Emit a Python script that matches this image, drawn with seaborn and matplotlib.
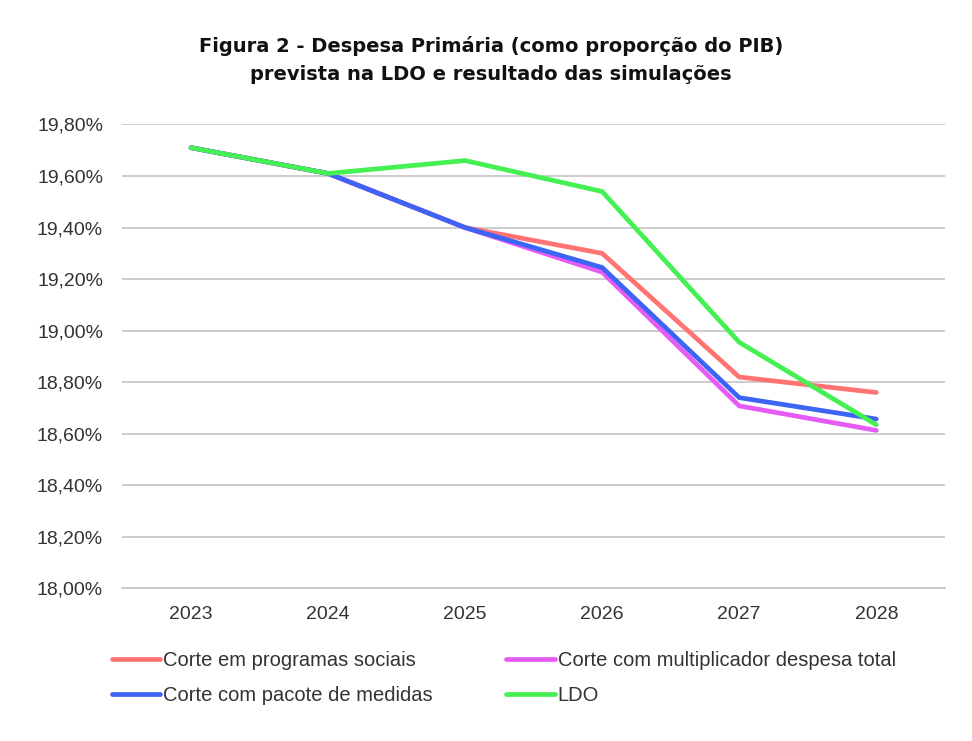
import pandas as pd
import seaborn as sns
import matplotlib.pyplot as plt
from matplotlib.ticker import FuncFormatter

# dados
anos = ["2023", "2024", "2025", "2026", "2027", "2028"]
corte_programas = [19.71, 19.61, 19.40, 19.30, 18.82, 18.76]
corte_multiplicador = [19.71, 19.61, 19.40, 19.227, 18.708, 18.613]
corte_pacote = [19.71, 19.61, 19.40, 19.245, 18.74, 18.657]
ldo = [19.71, 19.61, 19.66, 19.54, 18.955, 18.635]

series = {
    "Corte em programas sociais": corte_programas,
    "Corte com pacote de medidas": corte_pacote,
    "Corte com multiplicador despesa total": corte_multiplicador,
    "LDO": ldo,
}
cores = {
    "Corte em programas sociais": "#ff7373",
    "Corte com pacote de medidas": "#3c64f5",
    "Corte com multiplicador despesa total": "#e65af5",
    "LDO": "#44f052",
}

df = pd.concat(
    [pd.DataFrame({"ano": list(range(len(anos))), "valor": v, "serie": k}) for k, v in series.items()]
)

sns.set_style("white")
plt.rcParams["font.family"] = ["Liberation Sans", "DejaVu Sans"]

fig, ax = plt.subplots(figsize=(9.72, 7.41), dpi=100)
fig.subplots_adjust(left=0.126, right=0.972, top=0.832, bottom=0.206)

# ordem de desenho: magenta por baixo do azul
ordem_desenho = ["Corte em programas sociais", "Corte com multiplicador despesa total",
                 "Corte com pacote de medidas", "LDO"]
for nome in ordem_desenho:
    sub = df[df["serie"] == nome]
    sns.lineplot(data=sub, x="ano", y="valor", color=cores[nome], lw=3.4, ax=ax, label=nome)

ax.set_xlim(-0.5, len(anos) - 0.5)
ax.set_ylim(18.0, 19.8)
ax.set_xticks(range(len(anos)))
ax.set_xticklabels(anos)
ax.set_yticks([18.0 + 0.2 * i for i in range(10)])
ax.yaxis.set_major_formatter(FuncFormatter(lambda v, p: f"{v:.2f}%".replace(".", ",")))
ax.tick_params(axis="both", labelsize=14, colors="#333333", length=0)
ax.tick_params(axis="y", pad=14)
ax.tick_params(axis="x", pad=13)
ax.set_xlabel("")
ax.set_ylabel("")
ax.grid(axis="y", color="#c8c8c8", lw=1.3)
for s in ["top", "right", "left"]:
    ax.spines[s].set_visible(False)
ax.spines["bottom"].set_color("#c8c8c8")
ax.spines["bottom"].set_linewidth(1.3)

h, l = ax.get_legend_handles_labels()
ordem_leg = ["Corte em programas sociais", "Corte com pacote de medidas",
             "Corte com multiplicador despesa total", "LDO"]
hh = [h[l.index(n)] for n in ordem_leg]
ax.legend(hh, ordem_leg, ncol=2, loc="upper left", bbox_to_anchor=(-0.035, -0.097),
          frameon=False, fontsize=14.5, handlelength=2.4, handletextpad=0.15,
          columnspacing=3.65, labelspacing=0.75, labelcolor="#333333")

fig.suptitle("Figura 2 - Despesa Primária (como proporção do PIB)\nprevista na LDO e resultado das simulações",
             x=0.505, y=0.951, fontsize=14, fontweight="bold", family="DejaVu Sans",
             linespacing=1.55, color="#111111")

fig.savefig("out.png", dpi=100)
